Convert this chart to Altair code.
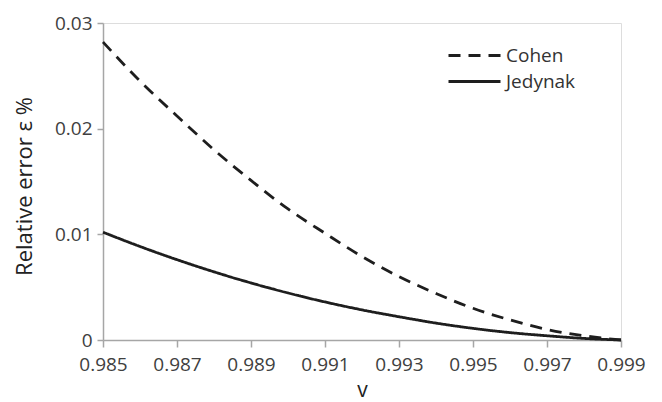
import altair as alt
import pandas as pd

v = [0.985, 0.986, 0.987, 0.988, 0.989, 0.990, 0.991, 0.992, 0.993, 0.994, 0.995, 0.996, 0.997, 0.998, 0.999]
cohen = [0.0282, 0.0245, 0.0212, 0.0180, 0.0151, 0.0124, 0.0101, 0.0079, 0.0060, 0.0044, 0.0030, 0.0019, 0.0010, 0.0004, 0.0]
jedynak = [0.0102, 0.00885, 0.0076, 0.00645, 0.0054, 0.00445, 0.0036, 0.00285, 0.0022, 0.0016, 0.0011, 0.0007, 0.0004, 0.00015, 0.0]
series = ["Cohen", "Jedynak"]

rows = []
for i, x in enumerate(v):
    rows.append({"v": x, "err": cohen[i], "series": series[0]})
    rows.append({"v": x, "err": jedynak[i], "series": series[1]})
df = pd.DataFrame(rows)

FONT = "Open Sans"

chart = alt.Chart(df).mark_line(strokeWidth=2.8, color="#1e1e1e", interpolate="monotone").encode(
    x=alt.X("v:Q", scale=alt.Scale(domain=[0.985, 0.999], nice=False, zero=False),
            axis=alt.Axis(values=[0.985, 0.987, 0.989, 0.991, 0.993, 0.995, 0.997, 0.999],
                          format=".3f", title="v", grid=False, labelFlush=False, labelOverlap=False,
                          domainColor="#a6a6a6", domainWidth=1.5, tickColor="#a6a6a6", tickWidth=1.5, tickSize=7,
                          labelFont=FONT, labelFontSize=19, labelColor="#404040", labelPadding=8,
                          titleFont=FONT, titleFontSize=21, titleFontWeight="normal", titleColor="#222222",
                          titleBaseline="alphabetic", titleY=56)),
    y=alt.Y("err:Q", scale=alt.Scale(domain=[0, 0.03], nice=False),
            axis=alt.Axis(values=[0, 0.01, 0.02, 0.03], labelFlush=False, labelOverlap=False,
                          labelExpr="datum.value == 0 ? '0' : format(datum.value, '.2f')",
                          title="Relative error ε %", grid=False,
                          domainColor="#a6a6a6", domainWidth=1.5, tickColor="#a6a6a6", tickWidth=1.5, tickSize=6,
                          labelFont=FONT, labelFontSize=19, labelColor="#404040", labelPadding=5,
                          titleFont=FONT, titleFontSize=22, titleFontWeight="normal", titleColor="#222222",
                          titleAngle=270, titleAlign="center", titleBaseline="middle",
                          titleX=-79, titleY=163)),
    strokeDash=alt.StrokeDash("series:N",
                              scale=alt.Scale(domain=series, range=[[12, 8], [1, 0]]),
                              legend=alt.Legend(title=None, orient="none", legendX=362, legendY=23, padding=0,
                                                symbolType="M-5.2,0H5.2", symbolSize=100, symbolStrokeWidth=2.8,
                                                symbolStrokeColor="#1e1e1e", symbolFillColor="transparent",
                                                labelFont=FONT, labelFontSize=19, labelColor="#333333",
                                                labelOffset=22, rowPadding=6)),
).properties(
    width=518, height=317,
    autosize=alt.AutoSizeParams(type="none"),
    padding={"left": 95, "top": 15, "right": 33, "bottom": 62},
).configure_view(stroke=None).configure(background="white")

chart.save("out.html", embed_options={"renderer": "svg", "actions": False})
